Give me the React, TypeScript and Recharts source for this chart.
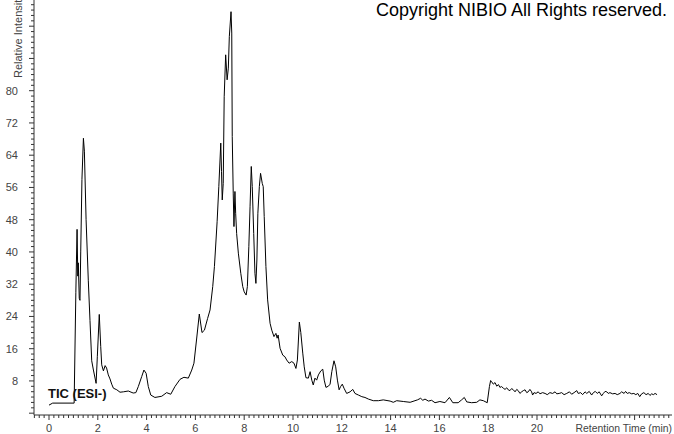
import React from 'react'
import { LineChart, Line, XAxis, YAxis } from 'recharts'

// retention time (min) and relative intensity
const retentionTime = [
  0.0, 0.15, 1.03, 1.1, 1.15, 1.18, 1.2, 1.24, 1.27, 1.3, 1.35, 1.41, 1.45, 1.52, 1.61, 1.68, 1.75, 1.82, 1.93, 1.98,
  2.06, 2.12, 2.16, 2.23, 2.3, 2.36, 2.43, 2.5, 2.57, 2.64, 2.78, 2.91, 3.05, 3.25, 3.45, 3.56, 3.66, 3.8, 3.89, 3.98,
  4.07, 4.17, 4.34, 4.62, 4.82, 4.99, 5.16, 5.37, 5.53, 5.71, 5.85, 5.94, 6.05, 6.16, 6.27, 6.37, 6.5, 6.6, 6.71, 6.78,
  6.89, 6.96, 7.04, 7.07, 7.1, 7.14, 7.18, 7.24, 7.3, 7.35, 7.39, 7.46, 7.49, 7.51, 7.55, 7.58, 7.62, 7.65, 7.69, 7.76,
  7.86, 7.94, 8.0, 8.08, 8.13, 8.19, 8.24, 8.29, 8.33, 8.39, 8.44, 8.48, 8.52, 8.56, 8.62, 8.67, 8.74, 8.78, 8.82, 8.89,
  8.96, 9.06, 9.13, 9.22, 9.3, 9.35, 9.39, 9.47, 9.58, 9.67, 9.74, 9.84, 9.95, 10.04, 10.12, 10.18, 10.26, 10.32, 10.4, 10.46,
  10.53, 10.63, 10.7, 10.77, 10.83, 10.9, 10.97, 11.04, 11.14, 11.22, 11.28, 11.35, 11.45, 11.52, 11.59, 11.68, 11.75, 11.82, 11.89, 11.95,
  12.02, 12.09, 12.2, 12.34, 12.45, 12.54, 12.68, 12.82, 12.95, 13.09, 13.29, 13.5, 13.7, 13.98, 14.11, 14.25, 14.52, 14.8, 15.0, 15.1,
  15.23, 15.32, 15.41, 15.55, 15.68, 15.82, 16.02, 16.23, 16.41, 16.55, 16.77, 16.91, 17.02, 17.12, 17.32, 17.53, 17.66, 17.8, 17.96, 18.05,
  18.1, 18.14, 18.21, 18.28, 18.35, 18.42, 18.48, 18.55, 18.62, 18.69, 18.76, 18.82, 18.89, 18.96, 19.03, 19.1, 19.17, 19.23, 19.3, 19.37,
  19.44, 19.51, 19.58, 19.64, 19.71, 19.78, 19.82, 19.88, 19.96, 20.05, 20.12, 20.23, 20.33, 20.42, 20.53, 20.64, 20.74, 20.81, 20.91, 21.01,
  21.11, 21.22, 21.33, 21.42, 21.52, 21.63, 21.69, 21.79, 21.87, 21.97, 22.04, 22.14, 22.24, 22.31, 22.39, 22.47, 22.55, 22.65, 22.72, 22.79,
  22.86, 22.92, 22.99, 23.1, 23.2, 23.29, 23.4, 23.47, 23.57, 23.63, 23.7, 23.78, 23.88, 23.97, 24.05, 24.13, 24.21, 24.29, 24.38, 24.47,
  24.56, 24.63, 24.7, 24.77, 24.84, 24.92,
]

const intensity = [
  2.0, 2.5, 2.5, 30, 45.6, 34, 37.3, 28.5, 28, 40, 58, 68.2, 65, 48, 33, 23, 13, 10.7, 7.4, 14,
  24.5, 16.5, 12, 10.5, 11.8, 11.2, 9.5, 8.5, 7.2, 6.2, 5.8, 5.2, 5.3, 5.5, 5.0, 5.1, 6.6, 9.1, 10.7, 9.9,
  6.6, 4.5, 3.9, 4.2, 5.1, 4.7, 6.6, 8.4, 8.9, 8.7, 10.7, 12.4, 18.4, 24.6, 20, 20.6, 23.5, 25.6, 31.4, 36.4,
  47.5, 56.2, 67, 60, 52.9, 57, 78.5, 88.9, 82.7, 85.6, 93.4, 99.6, 94.3, 68.6, 54.6, 46.3, 55, 49.6, 44.6, 39.7,
  34.7, 31.4, 30.1, 29.3, 31.4, 41.3, 51.2, 61.2, 56.2, 44.6, 34.7, 32.2, 38, 49.6, 56.2, 59.5, 57, 56.2, 48.8, 36.4,
  28.1, 22.3, 20.6, 19, 19.8, 18.6, 19.4, 16.1, 14.4, 14, 13.2, 12.4, 12.8, 12.4, 11.1, 13.2, 22.6, 20, 14.9, 11.5,
  8.8, 8.7, 10.3, 8.2, 7.0, 8.7, 8.2, 9.5, 10.5, 10.9, 8.2, 6.4, 6.7, 7.2, 10.3, 13, 11.5, 8.2, 5.8, 6.6,
  7.2, 6.2, 4.9, 5.3, 5.9, 4.9, 4.5, 4.1, 3.9, 3.5, 3.1, 3.1, 3.3, 3.0, 2.7, 3.1, 2.9, 2.7, 3.1, 3.3,
  3.7, 3.2, 3.5, 3.0, 3.2, 2.6, 2.9, 2.6, 3.9, 2.6, 2.6, 3.3, 3.9, 2.8, 2.6, 2.7, 3.3, 3.1, 2.6, 6.6,
  8.1, 7.8, 7.2, 7.6, 6.7, 7.1, 6.4, 6.6, 6.2, 5.9, 6.3, 5.8, 5.6, 6.1, 5.8, 5.3, 5.9, 5.6, 4.9, 5.3,
  5.6, 5.8, 5.1, 5.3, 5.9, 5.3, 4.5, 5.1, 4.9, 5.3, 4.8, 5.1, 4.9, 4.6, 5.1, 4.9, 5.3, 4.8, 4.9, 5.1,
  4.6, 4.9, 5.3, 4.7, 5.1, 5.6, 4.9, 5.1, 4.6, 5.3, 4.9, 5.4, 4.5, 5.1, 5.4, 4.9, 5.3, 4.3, 4.9, 5.4,
  5.3, 4.9, 5.1, 4.8, 4.9, 4.6, 4.9, 5.3, 4.9, 5.4, 4.9, 5.1, 4.8, 4.9, 4.6, 4.9, 4.1, 4.8, 5.1, 4.6,
  4.9, 4.4, 4.8, 4.6, 4.9, 4.6,
]

const xLabels = [0, 2, 4, 6, 8, 10, 12, 14, 16, 18, 20]
const yLabels = [8, 16, 24, 32, 40, 48, 56, 64, 72, 80]

const data = retentionTime.map((t, i) => ({ t, intensity: intensity[i] }))

// minor ticks: 0.2 min on x, 8/6 units on y
const xTicks: number[] = []
for (let k = -3; k <= 127; k++) xTicks.push(Math.round(k * 0.2 * 1000) / 1000)
const yTicks: number[] = []
for (let k = 0; k <= 76; k++) yTicks.push(Math.round((k * 8) / 6 * 1000) / 1000)

const FONT = '"Liberation Sans", Arial, sans-serif'

function XTick(props: any) {
  const { x, y, payload } = props
  const v = payload.value
  const major = Math.abs(v / 2 - Math.round(v / 2)) < 1e-6
  const label = major && xLabels.includes(Math.round(v))
  return (
    <g>
      <line x1={x} x2={x} y1={y} y2={y + (major ? 5 : 3)} stroke="#333" />
      {label && (
        <text x={x} y={y + 17} textAnchor="middle" fontSize={11} fill="#444" fontFamily={FONT}>
          {Math.round(v)}
        </text>
      )}
    </g>
  )
}

function YTick(props: any) {
  const { x, y, payload } = props
  const v = payload.value
  const major = Math.abs(v / 8 - Math.round(v / 8)) < 1e-6
  const label = major && yLabels.includes(Math.round(v))
  return (
    <g>
      <line x1={x - (major ? 5 : 3)} x2={x} y1={y} y2={y} stroke="#333" />
      {label && (
        <text x={x - 16} y={y + 4} textAnchor="end" fontSize={11} fill="#444" fontFamily={FONT}>
          {Math.round(v)}
        </text>
      )}
    </g>
  )
}

export default function App() {
  return (
    <div style={{ position: 'absolute', left: 0, top: 0, width: 674, height: 434, background: '#fff', fontFamily: FONT }}>
      <LineChart width={674} height={434} data={data} margin={{ top: 0, right: 2, bottom: 0, left: 0 }}>
        <XAxis
          dataKey="t"
          type="number"
          domain={[-0.615, 25.533]}
          allowDataOverflow
          ticks={xTicks}
          interval={0}
          tick={XTick}
          tickLine={false}
          tickSize={0}
          tickMargin={0}
          height={19}
          axisLine={{ stroke: '#333' }}
        />
        <YAxis
          type="number"
          domain={[-0.45, 102.5]}
          allowDataOverflow
          ticks={yTicks}
          interval={0}
          tick={YTick}
          tickLine={false}
          tickSize={0}
          tickMargin={0}
          width={34}
          axisLine={{ stroke: '#333' }}
        />
        <Line
          type="linear"
          dataKey="intensity"
          stroke="#000"
          strokeWidth={1}
          dot={false}
          isAnimationActive={false}
        />
      </LineChart>
      <svg width={674} height={434} style={{ position: 'absolute', left: 0, top: 0, pointerEvents: 'none' }}>
        <text x={376} y={16} fontSize={18} fill="#000" fontFamily={FONT}>
          Copyright NIBIO All Rights reserved.
        </text>
        <text x={48} y={398} fontSize={13} fontWeight="bold" fill="#111" fontFamily={FONT}>
          TIC (ESI-)
        </text>
        <text x={672} y={432} textAnchor="end" fontSize={10.4} fill="#444" fontFamily={FONT}>
          Retention Time (min)
        </text>
        <text x={0} y={0} transform="translate(22,78) rotate(-90)" fontSize={11} fill="#444" fontFamily={FONT}>
          Relative Intensity
        </text>
      </svg>
    </div>
  )
}
